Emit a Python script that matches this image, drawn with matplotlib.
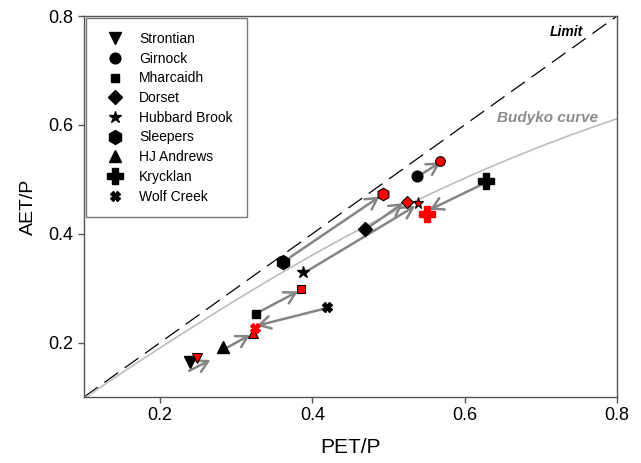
import numpy as np
import matplotlib
matplotlib.use("Agg")
import matplotlib.pyplot as plt
from matplotlib.lines import Line2D

plt.rcParams["font.family"] = ["Liberation Sans", "DejaVu Sans"]

# Catchments and their dryness / evaporative index, before (black) and after (red)
catchments = ["Strontian", "Girnock", "Mharcaidh", "Dorset", "Hubbard Brook",
              "Sleepers", "HJ Andrews", "Krycklan", "Wolf Creek"]
markers = ["v", "o", "s", "D", "*", "h", "^", "P", "X"]
marker_sizes = [8.5, 7.7, 6.0, 7.0, 9.0, 10.0, 8.5, 12.0, 6.5]

pet_p_before = [0.239, 0.537, 0.326, 0.469, 0.388, 0.362, 0.282, 0.628, 0.419]
aet_p_before = [0.165, 0.506, 0.252, 0.409, 0.329, 0.348, 0.191, 0.497, 0.265]
pet_p_after = [0.249, 0.567, 0.385, 0.524, 0.538, 0.493, 0.322, 0.551, 0.325]
aet_p_after = [0.171, 0.533, 0.298, 0.458, 0.456, 0.473, 0.218, 0.436, 0.227]

# Shift arrows (start -> end) in PET/P, AET/P units
arrow_x0 = [0.238, 0.545, 0.331, 0.476, 0.395, 0.371, 0.287, 0.622, 0.415]
arrow_y0 = [0.148, 0.511, 0.257, 0.414, 0.333, 0.357, 0.190, 0.490, 0.262]
arrow_x1 = [0.266, 0.568, 0.381, 0.519, 0.535, 0.488, 0.318, 0.554, 0.327]
arrow_y1 = [0.168, 0.531, 0.294, 0.456, 0.451, 0.468, 0.214, 0.444, 0.231]

fig = plt.figure(figsize=(6.41, 4.63), dpi=100)
ax = fig.add_axes([84 / 641, 1 - 397 / 463, (617 - 84) / 641, (397 - 16) / 463])

ax.set_xlim(0.1, 0.8)
ax.set_ylim(0.1, 0.8)

# Energy limit (1:1) and Budyko curve
lim = np.array([0.1, 0.8])
ax.plot(lim, lim, color="black", lw=0.9, ls=(0, (13.5, 6.5)), zorder=1)
phi = np.linspace(0.1, 0.8, 200)
budyko = np.sqrt(phi * np.tanh(1 / phi) * (1 - np.exp(-phi)))
ax.plot(phi, budyko, color="#bdbdbd", lw=1.2, zorder=1)

ax.text(0.734, 0.771, "Limit", fontsize=10, fontweight="bold", fontstyle="italic",
        ha="center", va="center", color="black")
ax.text(0.709, 0.613, "Budyko curve", fontsize=11, fontweight="bold",
        fontstyle="italic", ha="center", va="center", color="#8c8c8c")

# Arrows
for x0, y0, x1, y1 in zip(arrow_x0, arrow_y0, arrow_x1, arrow_y1):
    ax.annotate("", xy=(x1, y1), xytext=(x0, y0),
                arrowprops=dict(arrowstyle="->,head_length=0.8,head_width=0.45",
                                color="#858585", lw=1.8, shrinkA=0, shrinkB=0),
                zorder=2)

# Markers
for i, name in enumerate(catchments):
    ax.plot(pet_p_before[i], aet_p_before[i], marker=markers[i], ms=marker_sizes[i],
            color="black", mec="black", ls="none", zorder=3)
    if markers[i] in ("P", "X"):
        ax.plot(pet_p_after[i], aet_p_after[i], marker=markers[i], ms=marker_sizes[i],
                color="red", mec="red", ls="none", zorder=4)
    else:
        ax.plot(pet_p_after[i], aet_p_after[i], marker=markers[i],
                ms=marker_sizes[i] * 0.9, color="red", mec="black", mew=0.8,
                ls="none", zorder=4)

handles = [Line2D([], [], marker=m, ms=s, color="black", ls="none")
           for m, s in zip(markers, marker_sizes)]
leg = ax.legend(handles, catchments, loc="upper left", fontsize=10,
                frameon=True, fancybox=False, borderaxespad=0.15,
                borderpad=1.0, handlelength=2.16, handletextpad=0.65,
                labelspacing=0.41)
leg.get_frame().set_edgecolor("#555555")
leg.get_frame().set_linewidth(1.0)

for s in ax.spines.values():
    s.set_color("#555555")
    s.set_linewidth(1.0)

ax.set_xticks([0.2, 0.4, 0.6, 0.8])
ax.set_yticks([0.2, 0.4, 0.6, 0.8])
ax.set_xticklabels(["0.2", "0.4", "0.6", "0.8"])
ax.set_yticklabels(["0.2", "0.4", "0.6", "0.8"])
ax.tick_params(direction="out", length=4, width=1, color="#555555",
               labelsize=13, top=False, right=False)

ax.set_xlabel("PET/P", fontsize=15, labelpad=10)
ax.set_ylabel("AET/P", fontsize=14, labelpad=8)

fig.savefig("out.png", dpi=100)
